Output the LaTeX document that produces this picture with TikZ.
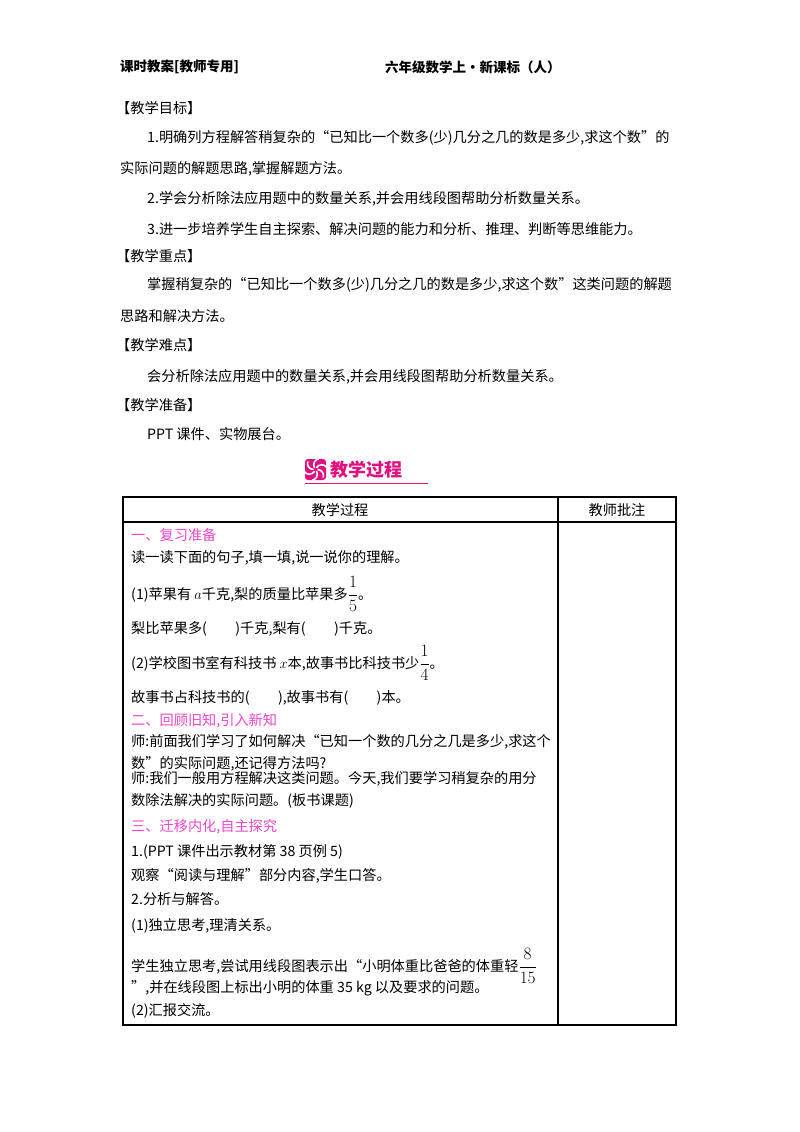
\documentclass[tikz,border=0pt]{standalone}
\usepackage{amsmath}
\usepackage{fontspec}
\setmainfont{Noto Sans CJK SC}
\definecolor{mag}{HTML}{EE44CC}
\definecolor{ban}{HTML}{E0107F}
\newcommand{\fr}[2]{{\fontsize{17}{20}\selectfont$\dfrac{#1}{#2}$}}
\begin{document}
\begin{tikzpicture}[x=1pt,y=-1pt,
  t/.style={anchor=west,inner sep=0pt,font=\fontsize{14.2}{16}\selectfont},
  h/.style={t,font=\fontsize{13.5}{16}\selectfont\bfseries},
  m/.style={t,text=mag},
  grid/.style={line width=1.2pt}]
\useasboundingbox (0,0) rectangle (800,1132);
\node[h] (hl) at (120,67) {课时教案[教师专用]};
\node[h] (hr) at (385,67) {六年级数学上·新课标（人）};
\node[t] (g1) at (116,108) {【教学目标】};
\node[t] (a1) at (147,138) {1.明确列方程解答稍复杂的“已知比一个数多(少)几分之几的数是多少,求这个数”的};
\node[t] (a2) at (120,169) {实际问题的解题思路,掌握解题方法。};
\node[t] (a3) at (147,199) {2.学会分析除法应用题中的数量关系,并会用线段图帮助分析数量关系。};
\node[t] (a4) at (147,229) {3.进一步培养学生自主探索、解决问题的能力和分析、推理、判断等思维能力。};
\node[t] (g2) at (116,256) {【教学重点】};
\node[t] (b1) at (147,285) {掌握稍复杂的“已知比一个数多(少)几分之几的数是多少,求这个数”这类问题的解题};
\node[t] (b2) at (120,316) {思路和解决方法。};
\node[t] (g3) at (116,345) {【教学难点】};
\node[t] (c1) at (147,377) {会分析除法应用题中的数量关系,并会用线段图帮助分析数量关系。};
\node[t] (g4) at (116,405) {【教学准备】};
\node[t] (d1) at (147,434) {PPT 课件、实物展台。};
% banner
\fill[ban,rounded corners=3pt] (305,459) rectangle (326,480);
\foreach \a in {0,60,...,300}{
  \draw[white,line width=1.6pt] (315.5,469.5) ++(\a:2) arc[start angle=\a-90,end angle=\a+20,radius=6];}
\node[anchor=west,inner sep=0pt,text=ban,font=\fontsize{18}{20}\selectfont\bfseries] (bt) at (330,470) {教学过程};
\draw[ban,line width=1pt] (305,483.5) -- (428,483.5);
% table
\draw[grid] (123,497) rectangle (676,1025);
\draw[grid] (123,522) -- (676,522);
\draw[grid] (558,497) -- (558,1025);
\node[t,anchor=center] (th1) at (340,510) {教学过程};
\node[t,anchor=center] (th2) at (617,510) {教师批注};
\node[m] (r1) at (131,535) {一、复习准备};
\node[t] (r2) at (131,558) {读一读下面的句子,填一填,说一说你的理解。};
\node[t] (r3) at (131,594) {(1)苹果有 $a$千克,梨的质量比苹果多\fr{1}{5}。};
\node[t] (r4) at (131,629) {梨比苹果多(\hspace{2em})千克,梨有(\hspace{2em})千克。};
\node[t] (r5) at (131,663) {(2)学校图书室有科技书 $x$本,故事书比科技书少\fr{1}{4}。};
\node[t] (r6) at (131,698) {故事书占科技书的(\hspace{2em}),故事书有(\hspace{2em})本。};
\node[m] (r7) at (131,721) {二、回顾旧知,引入新知};
\node[t] (r8) at (131,742) {师:前面我们学习了如何解决“已知一个数的几分之几是多少,求这个};
\node[t] (r9) at (131,764) {数”的实际问题,还记得方法吗?};
\node[t] (r10) at (131,779) {师:我们一般用方程解决这类问题。今天,我们要学习稍复杂的用分};
\node[t] (r11) at (131,801) {数除法解决的实际问题。(板书课题)};
\node[m] (r12) at (131,827) {三、迁移内化,自主探究};
\node[t] (r13) at (131,852) {1.(PPT 课件出示教材第 38 页例 5)};
\node[t] (r14) at (131,876) {观察“阅读与理解”部分内容,学生口答。};
\node[t] (r15) at (131,899) {2.分析与解答。};
\node[t] (r16) at (131,926) {(1)独立思考,理清关系。};
\node[t] (r17) at (131,966) {学生独立思考,尝试用线段图表示出“小明体重比爸爸的体重轻\fr{8}{15}};
\node[t] (r18) at (131,988) {”,并在线段图上标出小明的体重 35 kg 以及要求的问题。};
\node[t] (r19) at (131,1011) {(2)汇报交流。};
\end{tikzpicture}
\end{document}
